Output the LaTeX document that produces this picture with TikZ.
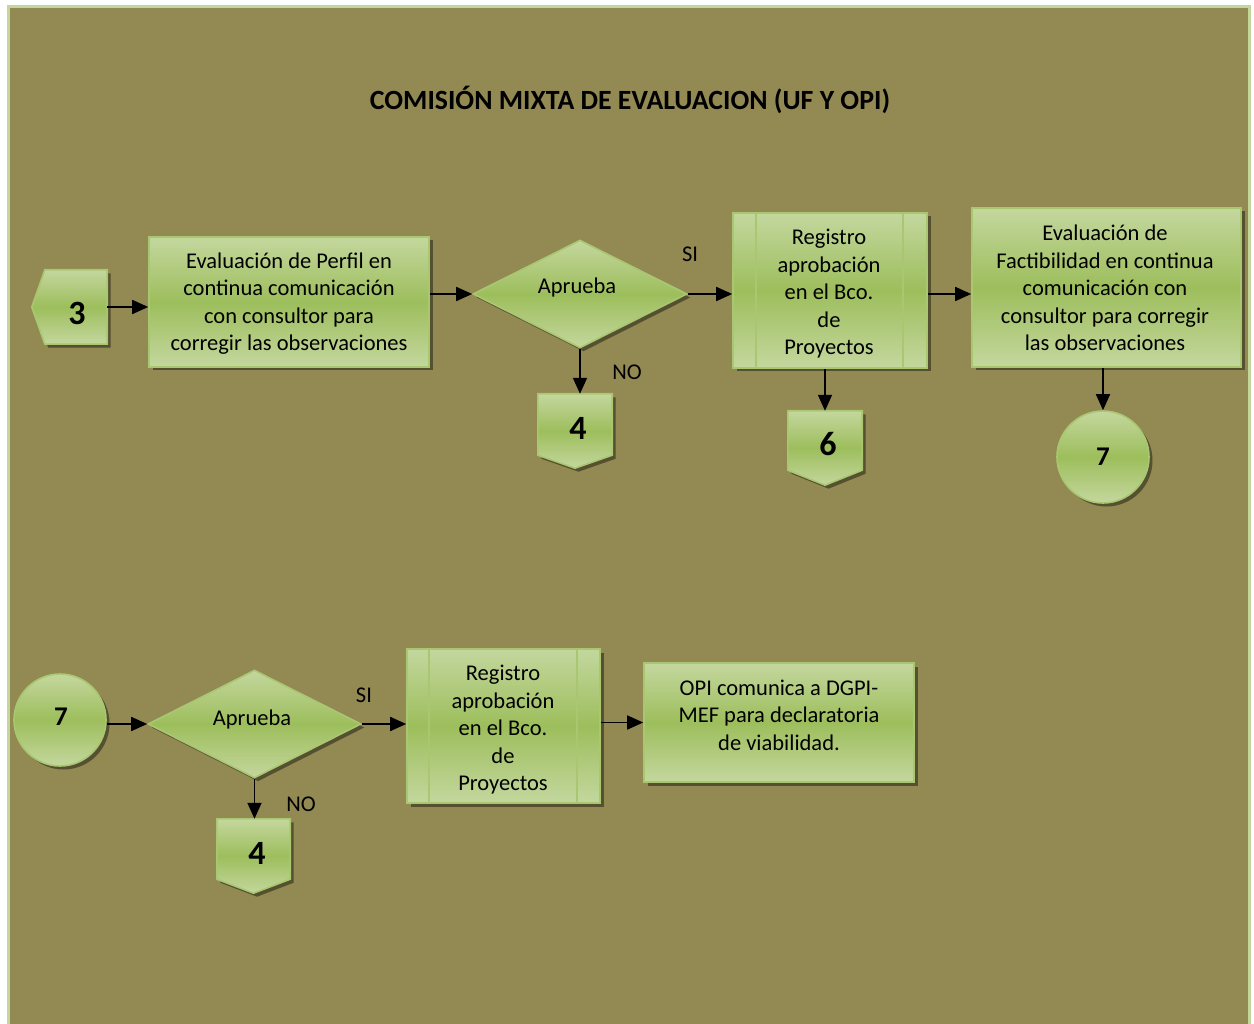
\documentclass[tikz,border=0pt]{standalone}
\usepackage{fontspec}
\setmainfont{Carlito}
\usetikzlibrary{shapes.geometric,shadows,arrows.meta}

\definecolor{bgolive}{HTML}{938953}
\definecolor{framegreen}{HTML}{C3D69B}
\definecolor{glight}{HTML}{C4D79E}
\definecolor{gmid}{HTML}{9DBE5C}
\definecolor{gline}{HTML}{A9C770}
\definecolor{shadowcol}{HTML}{555030}

% light at top and bottom, stronger green through the middle
\pgfdeclareverticalshading{greenfill}{100bp}{color(0bp)=(glight); color(25bp)=(glight); color(50bp)=(gmid); color(75bp)=(glight); color(100bp)=(glight)}

\tikzset{
  x=1pt, y=-1pt,
  shapebase/.style={draw=gline, line width=1.6pt, shade, shading=greenfill,
    drop shadow={shadow xshift=3.5pt, shadow yshift=-3.5pt, fill=shadowcol, opacity=1}},
  procbox/.style={shapebase, rectangle, inner sep=0pt},
  decision/.style={shapebase, diamond, inner sep=0pt},
  connector/.style={shapebase, circle, inner sep=0pt, minimum size=92pt},
  offbody/.style={rectangle, inner sep=0pt},
  txt/.style={align=center, inner sep=0pt, font=\fontsize{22.5}{27.5}\selectfont},
  num/.style={inner sep=0pt, font=\bfseries\fontsize{34}{36}\selectfont},
  numsmall/.style={inner sep=0pt, font=\bfseries\fontsize{27}{30}\selectfont},
  arr/.style={-{Triangle[length=16pt,width=14pt]}, line width=1.7pt, black},
}

\begin{document}
\begin{tikzpicture}
\useasboundingbox (0,0) rectangle (1254,1024);
\fill[white] (0,0) rectangle (1254,1024);
\draw[framegreen, line width=3pt, fill=bgolive] (8.5,6.5) rectangle (1249.5,1032);

% title
\node[inner sep=0pt, font=\bfseries\fontsize{27.8}{32}\selectfont] (title) at (630,100) {COMISIÓN MIXTA DE EVALUACION (UF Y OPI)};

% ---------- first row ----------
\node[offbody, minimum width=62pt, minimum height=74pt] (c3) at (76,307) {};
\path[shapebase] (c3.north west) -- (c3.north east) -- (c3.south east) -- (c3.south west) -- ([xshift=-13pt]c3.west) -- cycle;
\node[num] (c3n) at (77,313) {3};

\node[procbox, minimum width=280pt, minimum height=130pt] (box1) at (289,302) {};
\node[txt] (box1t) at (289,303.5) {Evaluación de Perfil en\\continua comunicación\\con consultor para\\corregir las observaciones};

\node[decision, minimum width=214pt, minimum height=108pt] (d1) at (580,294) {};
\node[txt] (d1t) at (577,288) {Aprueba};

\node[procbox, minimum width=194pt, minimum height=155pt] (pp1) at (830,290.5) {};
\draw[gline, line width=1.6pt] ([xshift=24pt]pp1.north west) -- ([xshift=24pt]pp1.south west);
\draw[gline, line width=1.6pt] ([xshift=-25pt]pp1.north east) -- ([xshift=-25pt]pp1.south east);
\node[txt] (pp1t) at (829,294) {Registro\\aprobación\\en el Bco.\\de\\Proyectos};

\node[procbox, minimum width=269pt, minimum height=159pt] (box2) at (1106.5,287.5) {};
\node[txt] (box2t) at (1105,288) {Evaluación de\\Factibilidad en continua\\comunicación con\\consultor para corregir\\las observaciones};

\node[offbody, minimum width=74pt, minimum height=61pt] (c4) at (575,424.5) {};
\path[shapebase] (c4.north west) -- (c4.north east) -- (c4.south east) -- ([yshift=-13pt]c4.south) -- (c4.south west) -- cycle;
\node[num] (c4n) at (578,428) {4};

\node[offbody, minimum width=74pt, minimum height=59pt] (c6) at (825,440.5) {};
\path[shapebase] (c6.north west) -- (c6.north east) -- (c6.south east) -- ([yshift=-15pt]c6.south) -- (c6.south west) -- cycle;
\node[num] (c6n) at (828,444) {6};

\node[connector] (c7a) at (1103,457) {};
\node[numsmall] (c7an) at (1103,457) {7};

% first row connectors
\draw[arr] (c3.east) -- (c3.east -| box1.west);
\draw[arr] (d1.west -| box1.east) -- (d1.west);
\draw[arr] (d1.east) -- (d1.east -| pp1.west);
\draw[arr] (d1.east -| pp1.east) -- (d1.east -| box2.west);
\draw[arr] (d1.south) -- (d1.south |- c4.north);
\draw[arr] (c6.north |- pp1.south) -- (c6.north);
\draw[arr] (c7a.north |- box2.south) -- (c7a.north);
\node[txt] (si1) at (690,254) {SI};
\node[txt] (no1) at (627,372) {NO};

% ---------- second row ----------
\node[connector] (c7b) at (60,720) {};
\node[numsmall] (c7bn) at (61,717) {7};

\node[decision, minimum width=213pt, minimum height=108pt] (d2) at (254.5,724) {};
\node[txt] (d2t) at (252,719) {Aprueba};

\node[procbox, minimum width=193pt, minimum height=154pt] (pp2) at (503.5,726) {};
\draw[gline, line width=1.6pt] ([xshift=23pt]pp2.north west) -- ([xshift=23pt]pp2.south west);
\draw[gline, line width=1.6pt] ([xshift=-24pt]pp2.north east) -- ([xshift=-24pt]pp2.south east);
\node[txt] (pp2t) at (503,730) {Registro\\aprobación\\en el Bco.\\de\\Proyectos};

\node[procbox, minimum width=270pt, minimum height=119pt] (box3) at (779,722.5) {};
\node[txt] (box3t) at (779,715) {OPI comunica a DGPI-\\MEF para declaratoria\\de viabilidad.};

\node[offbody, minimum width=73pt, minimum height=60pt] (c4b) at (253.5,849) {};
\path[shapebase] (c4b.north west) -- (c4b.north east) -- (c4b.south east) -- ([yshift=-14pt]c4b.south) -- (c4b.south west) -- cycle;
\node[num] (c4bn) at (257,853) {4};

% second row connectors
\draw[arr] (c7b.east |- d2.west) -- (d2.west);
\draw[arr] (d2.east) -- (d2.east -| pp2.west);
\draw[arr] (pp2.east |- box3.west) -- (box3.west);
\draw[arr] (d2.south) -- (d2.south |- c4b.north);
\node[txt] (si2) at (364,695) {SI};
\node[txt] (no2) at (301,804) {NO};
\end{tikzpicture}
\end{document}
